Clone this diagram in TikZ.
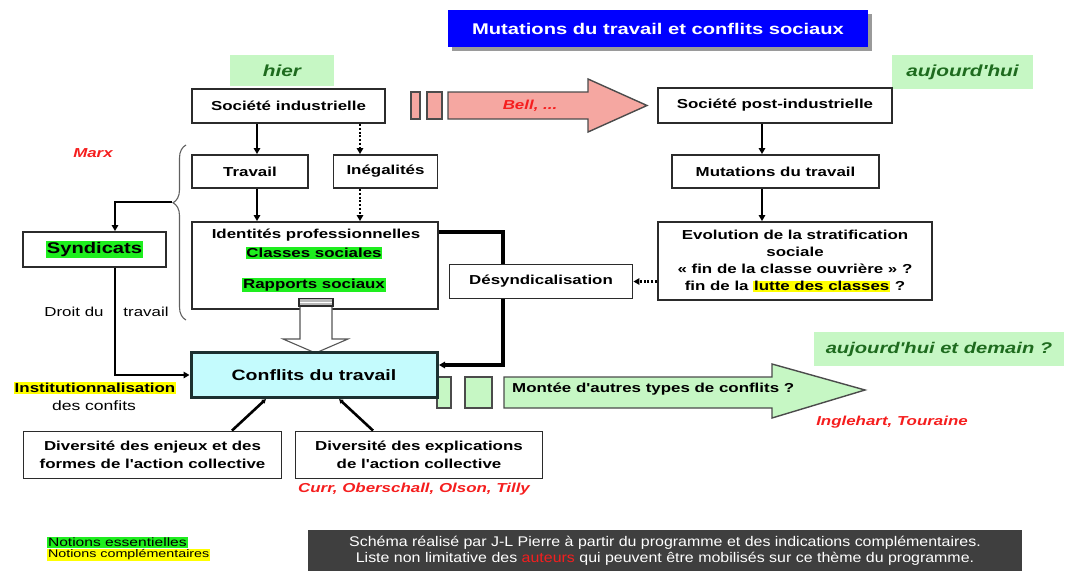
\documentclass[tikz,border=0pt]{standalone}
\usepackage{fontspec}
\setmainfont{Liberation Sans}
\newfontfamily\lab{Liberation Sans}[FakeStretch=1.3]
\newfontfamily\labn{Liberation Sans}[FakeStretch=1.14]
\usetikzlibrary{arrows.meta,decorations.pathreplacing,calc}
\definecolor{boxgray}{HTML}{2B2B2B}
\definecolor{titleblue}{HTML}{0000FF}
\definecolor{lgreen}{HTML}{C6F7C4}
\definecolor{dgreen}{HTML}{1E6B1E}
\definecolor{hlgreen}{HTML}{1EEE1E}
\definecolor{hlyellow}{HTML}{FFFF00}
\definecolor{pinkarrow}{HTML}{F5A7A1}
\definecolor{cyanfill}{HTML}{C4FBFD}
\definecolor{confborder}{HTML}{1C3030}
\definecolor{redtxt}{HTML}{F51E1E}
\definecolor{footgray}{HTML}{3F3F3F}
\definecolor{shadowgray}{HTML}{9A9A9A}
\newcommand\hlg[1]{{\setlength\fboxsep{0.8pt}\colorbox{hlgreen}{#1}}}
\newcommand\hly[1]{{\setlength\fboxsep{0.8pt}\colorbox{hlyellow}{#1}}}
\newcommand\bxfont{\lab\fontsize{13}{17}\selectfont\bfseries}
\newcommand\rgfont{\lab\fontsize{13}{17}\selectfont}
\begin{document}
\begin{tikzpicture}[x=1pt,y=-1pt,
  box/.style={draw=boxgray, line width=1.9pt, fill=white, inner sep=0pt, align=center, font=\bxfont},
  plain/.style={inner sep=0pt, align=center, font=\bxfont},
  conn/.style={line width=2.8pt, -{Triangle[length=6pt,width=6.5pt]}},
  dconn/.style={line width=2.8pt, dash pattern=on 2pt off 1.8pt, -{Triangle[length=6pt,width=6.5pt]}},
  smallconn/.style={line width=2.6pt, -{Latex[length=4pt,width=5.5pt]}},
  redlab/.style={inner sep=0pt, text=redtxt, font=\lab\fontsize{13}{15}\selectfont\bfseries\itshape},
  tagbox/.style={fill=lgreen, inner sep=0pt, text=dgreen, font=\lab\fontsize{16}{18}\selectfont\bfseries\itshape},
  blockarrow/.style={draw=boxgray!85, line width=1.4pt},
]
\useasboundingbox (0,0) rectangle (1065,570);

% title
\fill[shadowgray] (452,14) rectangle (872,51);
\node[fill=titleblue, minimum width=420pt, minimum height=37pt, inner sep=0pt, text=white,
  font=\lab\fontsize{15.5}{18}\selectfont\bfseries] (title) at (658,28.5) {Mutations du travail et conflits sociaux};

% time tags
\node[tagbox, minimum width=104pt, minimum height=31pt] (hier) at (282,70.5) {hier};
\node[tagbox, minimum width=141pt, minimum height=34pt] (auj) at (962.5,72) {aujourd'hui};
\node[tagbox, minimum width=250pt, minimum height=34pt, font=\lab\fontsize{15.5}{18}\selectfont\bfseries\itshape] (aujdem) at (939,349) {aujourd'hui et demain ?};

% pink block arrow
\draw[blockarrow, fill=pinkarrow] (411,92) rectangle (420,119);
\draw[blockarrow, fill=pinkarrow] (427,92) rectangle (442,119);
\draw[blockarrow, fill=pinkarrow] (448,92) -- (588,92) -- (588,79) -- (647,105.5) -- (588,132) -- (588,119) -- (448,119) -- cycle;
\node[redlab] (bell) at (530,105.5) {Bell, ...};

% top boxes
\node[box, minimum width=193pt, minimum height=34pt] (si) at (288.5,106) {Société industrielle};
\node[box, minimum width=234pt, minimum height=35pt] (sp) at (775,105.5) {Société post-industrielle};
\node[box, minimum width=116pt, minimum height=33pt] (trav) at (250,171.5) {Travail};
\node[box, minimum width=104pt, minimum height=33pt] (ineg) at (385.5,171.5) {Inégalités};
\node[box, minimum width=207pt, minimum height=33pt] (mut) at (775.5,171.5) {Mutations du travail};

% connector right of identites (behind Desyndicalisation)
\coordinate (rx) at (503,0);
\draw[line width=3.2pt, -{Triangle[length=6pt,width=6.5pt]}] (437,232) -| (rx |- 0,365) -- (439,365);

% identites box
\node[box, minimum width=246pt, minimum height=87pt] (ident) at (315,265.5) {};
\node[plain] (id1) at (316,235) {Identités professionnelles};
\node[plain] (id2) at (314,253) {\hlg{Classes sociales}};
\node[plain] (id3) at (314,285) {\hlg{Rapports sociaux}};

% evolution box
\node[box, minimum width=274pt, minimum height=78pt, font=\lab\fontsize{13}{17}\selectfont\bfseries] (evol) at (795,261)
  {Evolution de la stratification\\ sociale\\ « fin de la classe ouvrière » ?\\ fin de la \hly{lutte des classes} ?};

\node[box, minimum width=183pt, minimum height=34pt] (des) at (541,281.5) {Désyndicalisation};
\node[box, minimum width=143pt, minimum height=35pt, font=\lab\fontsize{15.5}{18}\selectfont\bfseries] (synd) at (94.5,249.5) {\hlg{Syndicats}};

% vertical arrows
\coordinate (lx) at (257,0);
\coordinate (dx) at (360,0);
\coordinate (mx) at (762,0);
\draw[conn] (si.south -| lx) -- (trav.north -| lx);
\draw[dconn] (si.south -| dx) -- (ineg.north -| dx);
\draw[conn] (trav.south -| lx) -- (ident.north -| lx);
\draw[dconn] (ineg.south -| dx) -- (ident.north -| dx);
\draw[conn] (sp.south -| mx) -- (mut.north -| mx);
\draw[conn] (mut.south -| mx) -- (evol.north -| mx);
\draw[dconn] (evol.west |- des.east) -- (des.east);

% brace and Marx
\draw[line width=1.1pt, draw=boxgray!75, decorate, decoration={brace, amplitude=13pt, aspect=0.33, mirror}] (186,145) -- (186,320);
\coordinate (bt) at (172,202);
\coordinate (sx) at (115,0);
\node[redlab] (marx) at (93,153) {Marx};
\draw[line width=2.8pt, -{Triangle[length=6pt,width=6.5pt]}] (bt) -| (synd.north -| sx);

% green block arrow (behind conflits)
\draw[blockarrow, fill=lgreen] (437,377) rectangle (451,408);
\draw[blockarrow, fill=lgreen] (465,377) rectangle (492,408);
\draw[blockarrow, fill=lgreen] (504,377) -- (772,377) -- (772,364) -- (865,390) -- (772,418) -- (772,408) -- (504,408) -- cycle;
\node[plain, anchor=west] (mont) at (512,389) {Montée d'autres types de conflits ?};
\node[redlab] (ingl) at (892,422) {Inglehart, Touraine};

% hollow arrow
\draw[line width=1.1pt, draw=boxgray!80, fill=white] (300,306) -- (300,339) -- (283,339) -- (315.5,353) -- (348,339) -- (332,339) -- (332,306);
\draw[line width=1.1pt, draw=boxgray, fill=gray!55] (299,298.5) rectangle (333,306);
\draw[line width=0.8pt, white] (300,302.2) -- (332,302.2);

% conflits
\node[draw=confborder, line width=3pt, fill=cyanfill, minimum width=246pt, minimum height=45pt, inner sep=0pt,
  font=\lab\fontsize{15}{18}\selectfont\bfseries] (conf) at (314,375) {Conflits du travail};

% syndicats to conflits
\draw[line width=2.8pt, -{Triangle[length=6pt,width=6.5pt]}] (synd.south -| sx) |- (conf.west);
\node[inner sep=0pt, font=\rgfont] (droit1) at (74,312) {Droit du};
\node[inner sep=0pt, font=\rgfont] (droit2) at (146,312) {travail};
\node[inner sep=0pt, font=\bxfont] (inst1) at (95,388) {\hly{Institutionnalisation}};
\node[inner sep=0pt, font=\lab\fontsize{13.5}{17}\selectfont] (inst2) at (94,406) {des confits};

% bottom boxes
\node[box, minimum width=258pt, minimum height=47pt, font=\lab\fontsize{13}{18}\selectfont\bfseries] (div1) at (152.5,455)
  {Diversité des enjeux et des\\ formes de l'action collective};
\node[box, minimum width=247pt, minimum height=47pt, font=\lab\fontsize{13}{18}\selectfont\bfseries] (div2) at (419,455)
  {Diversité des explications\\ de l'action collective};
\node[redlab] (curr) at (414,489) {Curr, Oberschall, Olson, Tilly};
\coordinate (c1) at (266,0);
\coordinate (c2) at (339,0);
\draw[smallconn] (div1.north -| 232,0) -- (conf.south -| c1);
\draw[smallconn] (div2.north -| 373,0) -- (conf.south -| c2);

% legend
\node[anchor=west, inner sep=0pt, font=\lab\fontsize{12}{13}\selectfont] (leg1) at (47,542.5) {\hlg{Notions essentielles}};
\node[anchor=west, inner sep=0pt, font=\lab\fontsize{11}{12}\selectfont] (leg2) at (47,555) {\hly{Notions complémentaires}};

% footer
\node[fill=footgray, minimum width=714pt, minimum height=42pt, inner sep=0pt, text=white, align=center,
  font=\labn\fontsize{14}{16.5}\selectfont] (foot) at (665,551)
  {Schéma réalisé par J-L Pierre à partir du programme et des indications complémentaires.\\
   Liste non limitative des \textcolor{redtxt}{auteurs} qui peuvent être mobilisés sur ce thème du programme.};
\end{tikzpicture}
\end{document}
